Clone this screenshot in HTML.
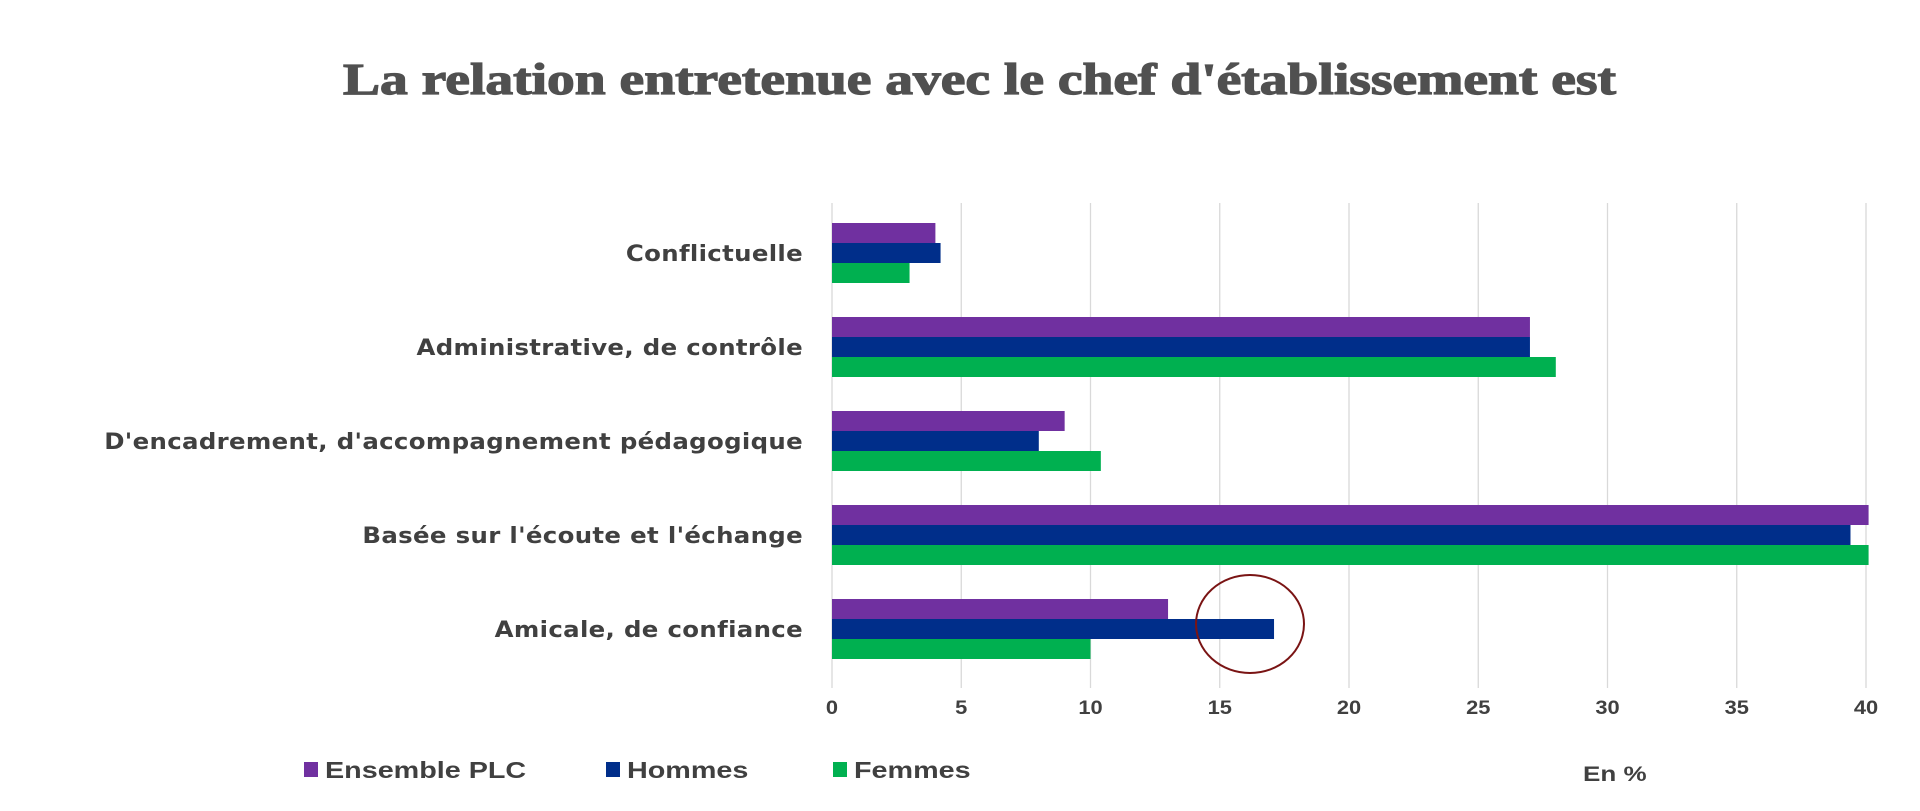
<!DOCTYPE html>
<html><head><meta charset="utf-8"><style>
html,body{margin:0;padding:0;background:#fff;width:1920px;height:811px;overflow:hidden}
svg{display:block}
text{font-family:"Liberation Sans",Arial,sans-serif;font-weight:bold;fill:#404040}
</style></head><body>
<svg id="chart" width="1920" height="811">
<text x="343" y="94" textLength="1273" lengthAdjust="spacingAndGlyphs" style="font-family:'Liberation Serif',serif;font-weight:900;font-size:44px;fill:#505050;stroke:#505050;stroke-width:1.2">La relation entretenue avec le chef d'établissement est</text>
<g id="grid"></g><g id="bars"></g><g id="ylabels"></g><g id="xlabels"></g>
<ellipse cx="1250" cy="624" rx="54" ry="49" fill="none" stroke="#7a1414" stroke-width="2"/>
<g id="legend"></g>
<text transform="translate(1583,781) scale(1.24,1)" x="0" y="0" font-size="21">En %</text>
</svg>
<script>
const categories=["Conflictuelle","Administrative, de contrôle","D'encadrement, d'accompagnement pédagogique","Basée sur l'écoute et l'échange","Amicale, de confiance"];
const seriesNames=["Ensemble PLC","Hommes","Femmes"];
const ensemble=[4,27,9,40.1,13];
const hommes=[4.2,27,8,39.4,17.1];
const femmes=[3,28,10.4,40.1,10];
const ticks=[0,5,10,15,20,25,30,35,40];
const colors=["#7030a0","#002e8a","#00b050"];
const NS="http://www.w3.org/2000/svg";
const x0=832,x1=1866,xmax=40,plotTop=203,step=94,barH=20,firstBar=223;
const xs=v=>x0+(v/xmax)*(x1-x0);
function mk(tag,attrs,parent){const e=document.createElementNS(NS,tag);for(const k in attrs)e.setAttribute(k,attrs[k]);document.getElementById(parent).appendChild(e);return e;}
ticks.forEach(t=>{
 const l=mk('line',{x1:xs(t),x2:xs(t),y1:plotTop,y2:688,stroke:'#d9d9d9','stroke-width':1.3},'grid');
 
 
 const tx=mk('text',{x:0,y:0,transform:'translate('+xs(t)+',714) scale(1.15,1)','text-anchor':'middle','font-size':19},'xlabels');tx.textContent=t;
 
 
});
const series=[ensemble,hommes,femmes];
categories.forEach((c,i)=>{
 const y=firstBar+i*step;
 series.forEach((s,j)=>{
  const r=mk('rect',{x:x0,y:y+j*barH,width:xs(s[i])-x0,height:barH,fill:colors[j]},'bars');
  
  
 });
 const t=mk('text',{x:0,y:0,transform:'translate(803,'+(y+barH*1.5+8)+') scale(1.11,1)','text-anchor':'end','font-size':22,style:'font-family:"DejaVu Sans",sans-serif;letter-spacing:0.3px'},'ylabels');t.textContent=c;
 
 
});
const lx=[304,606,833];
seriesNames.forEach((n,j)=>{
 const r=mk('rect',{x:lx[j],y:762,width:14,height:15,fill:colors[j]},'legend');
 
 
 const t=mk('text',{x:0,y:0,transform:'translate('+(lx[j]+21)+',778) scale(1.25,1)','font-size':23},'legend');t.textContent=n;
 
 
});
</script>
</body></html>
